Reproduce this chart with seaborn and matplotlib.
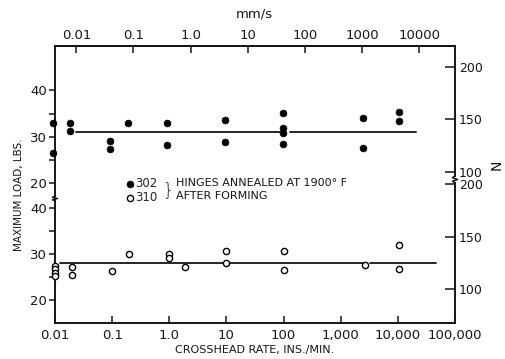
import numpy as np
import pandas as pd
import matplotlib
matplotlib.use("Agg")
import matplotlib.pyplot as plt
from matplotlib.ticker import NullLocator, FixedLocator
import seaborn as sns

sns.set_style("ticks")
plt.rcParams['font.family'] = ['DejaVu Sans']

# 302 hinges (filled dots): crosshead rate in in/min, maximum load in lbs
rate_302 = [0.0093, 0.0093, 0.018, 0.018, 0.092, 0.092, 0.19, 0.93, 0.93,
            9.6, 9.6, 96, 96, 96, 96, 2500, 2500, 10500, 10500]
load_302 = [33.0, 26.6, 33.0, 31.3, 29.2, 27.3, 32.9, 32.9, 28.3,
            33.6, 28.9, 35.1, 31.9, 30.9, 28.5, 34.0, 27.7, 35.3, 33.3]

# 310 hinges (open circles)
rate_310 = [0.01, 0.01, 0.01, 0.01, 0.02, 0.02, 0.1, 0.2, 1.0, 1.0, 1.9,
            10, 10, 100, 100, 2700, 10500, 10500]
load_310 = [27.4, 26.7, 25.9, 25.2, 27.1, 25.5, 26.4, 30.0, 29.9, 29.2, 27.3,
            30.6, 28.0, 30.7, 26.6, 27.6, 31.9, 26.8]

# mean lines (drawn in pieces like the original)
line_302_x = [(0.023, 89), (132, 20700)]
line_302_y = 31.1
line_310_x = [(0.012, 2500), (3300, 46000)]
line_310_y = 28.0

bottom_ticks = [0.01, 0.1, 1, 10, 100, 1000, 10000, 100000]
bottom_labels = ['0.01', '0.1', '1.0', '10', '100', '1,000', '10,000', '100,000']
top_ticks = [0.01, 0.1, 1, 10, 100, 1000, 10000]
top_labels = ['0.01', '0.1', '1.0', '10', '100', '1000', '10000']
lbs_ticks = [20, 30, 40]
n_ticks = [100, 150, 200]

LB_TO_N = 4.448
INMIN_TO_MMS = 25.4 / 60

df302 = pd.DataFrame({'rate': rate_302, 'load': load_302})
df310 = pd.DataFrame({'rate': rate_310, 'load': load_310})

W, H = 506, 359
fig = plt.figure(figsize=(W / 100, H / 100), dpi=100)

def fx(px):
    return px / W

def fy(py):
    return 1 - py / H

ax_up = fig.add_axes([fx(55), fy(198), fx(455) - fx(55), fy(46) - fy(198)])
ax_lo = fig.add_axes([fx(55), fy(323), fx(455) - fx(55), fy(183) - fy(323)])

ink = '#151515'
for ax in (ax_up, ax_lo):
    ax.set_facecolor('none')
    ax.set_xscale('log')
    ax.set_xlim(0.01, 100000)
    ax.xaxis.set_minor_locator(NullLocator())
    for s in ax.spines.values():
        s.set_linewidth(1.4)
        s.set_color(ink)
    ax.spines['right'].set_visible(False)
    ax.yaxis.set_major_locator(FixedLocator(lbs_ticks))
    ax.yaxis.set_minor_locator(FixedLocator([25, 35]))
    ax.tick_params(axis='y', which='both', direction='out', length=4, width=1.1,
                   labelsize=9.5, pad=2, colors=ink)

ax_up.set_ylim(16.88, 49.49)
ax_lo.set_ylim(15.16, 45.27)
ax_up.spines['bottom'].set_visible(False)
ax_lo.spines['top'].set_visible(False)
ax_up.spines['left'].set_bounds(17.31, 49.49)
ax_lo.spines['left'].set_bounds(15.16, 41.6)

ax_up.tick_params(axis='x', which='both', bottom=False, labelbottom=False, top=False)
ax_lo.set_xticks(bottom_ticks)
ax_lo.set_xticklabels(bottom_labels)
ax_lo.tick_params(axis='x', direction='in', length=5, width=1.1, labelsize=9.5,
                  pad=4, colors=ink)

# points
sns.scatterplot(data=df302, x='rate', y='load', ax=ax_up, color='black', s=24,
                edgecolor='black', linewidth=0.5, clip_on=False, label='302',
                legend=False, zorder=3)
sns.scatterplot(data=df310, x='rate', y='load', ax=ax_lo, facecolor='white', s=20,
                edgecolor='black', linewidth=1.0, clip_on=False, label='310',
                legend=False, zorder=3)
for ax in (ax_up, ax_lo):
    ax.set_xlabel('')
    ax.set_ylabel('')

for x0, x1 in line_302_x:
    ax_up.plot([x0, x1], [line_302_y, line_302_y], color=ink, lw=1.3, zorder=2)
for x0, x1 in line_310_x:
    ax_lo.plot([x0, x1], [line_310_y, line_310_y], color=ink, lw=1.3, zorder=2)

# top mm/s axis
top = ax_up.secondary_xaxis('top', functions=(lambda x: x * INMIN_TO_MMS,
                                               lambda x: x / INMIN_TO_MMS))
top.set_xticks(top_ticks)
top.set_xticklabels(top_labels)
top.xaxis.set_minor_locator(NullLocator())
top.tick_params(direction='in', length=5, width=1.1, labelsize=9.5, pad=3, colors=ink)
top.spines['top'].set_linewidth(1.4)

# right N axes
for ax, lo_b in ((ax_up, 96.0), (ax_lo, None)):
    sec = ax.secondary_yaxis('right', functions=(lambda v: v * LB_TO_N,
                                                  lambda v: v / LB_TO_N))
    sec.set_yticks(n_ticks)
    sec.yaxis.set_minor_locator(NullLocator())
    sec.tick_params(direction='in', length=7, width=1.1, labelsize=9, pad=3,
                    colors=ink)
    sec.spines['right'].set_linewidth(1.4)
    sec.spines['right'].set_color(ink)
    if lo_b is not None:
        sec.spines['right'].set_bounds(lo_b, ax.get_ylim()[1] * LB_TO_N)

# axis break squiggles
zz_y = np.array([0.0, 0.25, 0.5, 0.75, 1.0])
zz_x = np.array([0.0, -1.0, 1.0, -1.0, 0.0])
fig.add_artist(plt.Line2D(fx(55) + zz_x * 0.005, fy(196) - zz_y * (5 / H),
                          color=ink, lw=1.1))
fig.add_artist(plt.Line2D(fx(455) + zz_x * 0.005, fy(176) - zz_y * (7 / H),
                          color=ink, lw=1.1))

# legend
h302 = ax_up.collections[0]
h310 = ax_lo.collections[0]
fig.legend([h302, h310], ['302', '310'], loc='upper left',
           bbox_to_anchor=(fx(115), fy(171)), frameon=False, fontsize=8.5,
           handletextpad=-0.3, labelspacing=0.1, borderpad=0, handlelength=1.5)
fig.text(fx(163), fy(190), '}', fontsize=13, ha='left', va='center', color=ink,
         fontweight='light')
fig.text(fx(176), fy(183), 'HINGES ANNEALED AT 1900° F', fontsize=8, ha='left',
         va='center', color=ink)
fig.text(fx(176), fy(196), 'AFTER FORMING', fontsize=8, ha='left', va='center',
         color=ink)

fig.text(fx(19), fy(195), 'MAXIMUM LOAD, LBS.', rotation=90, fontsize=7.5,
         ha='center', va='center', color=ink)
fig.text(fx(255), fy(350), 'CROSSHEAD RATE, INS./MIN.', fontsize=8,
         ha='center', va='center', color=ink)
fig.text(fx(254), fy(14), 'mm/s', fontsize=9.5, ha='center', va='center', color=ink)
fig.text(fx(497), fy(165), 'N', rotation=90, fontsize=10, ha='center', va='center',
         color=ink)

fig.savefig('out.png', dpi=100)
